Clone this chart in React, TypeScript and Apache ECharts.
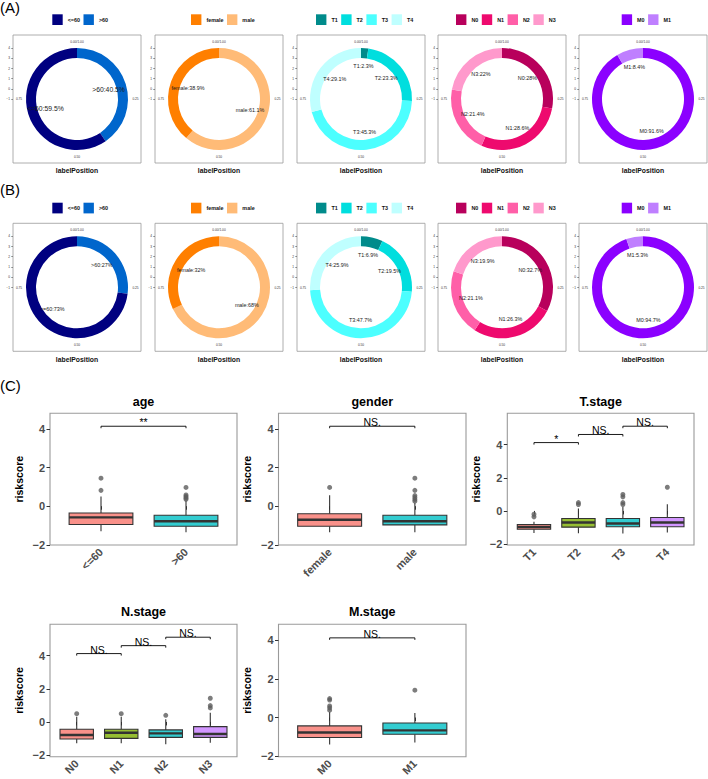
import { useEffect, useRef } from "react";
import * as echarts from "echarts";

const FONT = '"Liberation Sans", Arial, Helvetica, sans-serif';

// ---------- composition rings: cohort A (top row) and cohort B (middle row) ----------
const ageCategories = ["<=60", ">60"];
const genderCategories = ["female", "male"];
const tCategories = ["T1", "T2", "T3", "T4"];
const nCategories = ["N0", "N1", "N2", "N3"];
const mCategories = ["M0", "M1"];

const agePctA = [59.5, 40.5];
const genderPctA = [38.9, 61.1];
const tPctA = [2.3, 23.3, 45.3, 29.1];
const nPctA = [28, 28.6, 21.4, 22];
const mPctA = [91.6, 8.4];

const agePctB = [73, 27];
const genderPctB = [32, 68];
const tPctB = [6.9, 19.5, 47.7, 25.9];
const nPctB = [32.7, 26.3, 21.1, 19.9];
const mPctB = [94.7, 5.3];

// slice order going clockwise from 12 o'clock (indices into the category lists)
const ageRingOrder = [1, 0];
const genderRingOrder = [1, 0];
const tRingOrder = [0, 1, 2, 3];
const nRingOrder = [0, 1, 2, 3];
const mRingOrder = [0, 1];

const ageColors = ["#000080", "#0066CC"];
const genderColors = ["#FF7F00", "#FFBB77"];
const tColors = ["#008B8B", "#00DEDE", "#4CFFFF", "#BFFFFF"];
const nColors = ["#B8005C", "#EE0A6E", "#FF5FA8", "#FF99CC"];
const mColors = ["#8B00FF", "#BF7FFF"];

const thetaLabels = ["0.00/1.00", "0.25", "0.50", "0.75"];
const ringYTicks = [-1, 0, 1, 2, 3, 4];
const ringAxisTitle = "labelPosition";

// ---------- risk score by clinical feature ----------
const riskTitles = ["age", "gender", "T.stage", "N.stage", "M.stage"];
const riskAxisName = "riskscore";
const riskTicks = [-2, 0, 2, 4];

// per group: [lower whisker, Q1, median, Q3, upper whisker]
const ageBoxStats = [
  [-1.3, -0.95, -0.58, -0.35, 0.5],
  [-1.35, -1.04, -0.78, -0.47, 0.3],
];
const genderBoxStats = [
  [-1.35, -1.04, -0.7, -0.39, 0.56],
  [-1.35, -0.97, -0.78, -0.47, 0.18],
];
const tBoxStats = [
  [-1.33, -1.11, -0.97, -0.82, -0.66],
  [-1.35, -0.98, -0.7, -0.46, 0.15],
  [-1.37, -0.96, -0.76, -0.46, 0.24],
  [-1.31, -0.96, -0.7, -0.4, 0.4],
];
const nBoxStats = [
  [-1.29, -1.03, -0.79, -0.44, 0.32],
  [-1.29, -0.99, -0.65, -0.44, 0.32],
  [-1.35, -0.93, -0.69, -0.48, 0.16],
  [-1.25, -0.93, -0.73, -0.28, 0.56],
];
const mBoxStats = [
  [-1.39, -1.03, -0.77, -0.43, 0.28],
  [-1.29, -0.86, -0.66, -0.28, 0.24],
];

// outlying samples: [group index, risk score]
const ageOutliers = [[0, 1.45], [0, 0.82], [1, 0.97], [1, 0.58], [1, 0.5], [1, 0.43], [1, 0.36]];
const genderOutliers = [[0, 0.97], [1, 1.45], [1, 0.82], [1, 0.55], [1, 0.45], [1, 0.35], [1, 0.26]];
const tOutliers = [[0, -0.2], [0, -0.36], [1, 0.5], [1, 0.39], [2, 0.99], [2, 0.85], [2, 0.5], [2, 0.39], [3, 1.43]];
const nOutliers = [[0, 0.5], [1, 0.5], [2, 0.4], [3, 1.43], [3, 0.99], [3, 0.85]];
const mOutliers = [[0, 0.98], [0, 0.9], [0, 0.6], [0, 0.5], [0, 0.38], [1, 1.41]];

// pairwise tests: [group a, group b, bracket height, significance]
const ageTests: [number, number, number, string][] = [[0, 1, 4.14, "**"]];
const genderTests: [number, number, number, string][] = [[0, 1, 4.14, "NS."]];
const tTests: [number, number, number, string][] = [[0, 1, 4.13, "*"], [1, 2, 4.62, "NS."], [2, 3, 5.12, "NS."]];
const nTests: [number, number, number, string][] = [[0, 1, 4.13, "NS."], [1, 2, 4.61, "NS."], [2, 3, 5.12, "NS."]];
const mTests: [number, number, number, string][] = [[0, 1, 4.11, "NS."]];

const twoGroupFills = ["#F8766D", "#00BFC4"];
const fourGroupFills = ["#F8766D", "#7CAE00", "#00BFC4", "#C77CFF"];

// ---------- layout ----------
const ringLefts = [13, 155, 297, 438, 579];
const ringLegendLefts = [52.3, 191, 316, 456, 621.7];
const ringSize = 128;
const cohortTops = [35, 223.3];
const cohortLegendTops = [14.3, 202.7];
const axisTitleYs = [170, 359];
const ringLabelSizes = [
  [6.8, 5.4, 5.4, 5.4, 5.4],
  [5.4, 5.4, 5.4, 5.4, 5.4],
];

const riskLayout = [
  { left: 50, top: 413.3, width: 187, height: 131.7, yMin: -2.01, yMax: 4.81, titleY: 401.7 },
  { left: 278.5, top: 413.3, width: 187.5, height: 131.7, yMin: -2.01, yMax: 4.81, titleY: 401.7 },
  { left: 507.3, top: 413.3, width: 186.7, height: 131.7, yMin: -2.06, yMax: 5.9, titleY: 401.7 },
  { left: 50, top: 624.3, width: 187, height: 132.4, yMin: -2.1, yMax: 5.9, titleY: 612.3 },
  { left: 278.5, top: 624.3, width: 187.5, height: 132.4, yMin: -2.02, yMax: 4.81, titleY: 612.3 },
];

const minus = (v: number) => (v < 0 ? "\u2212" + Math.abs(v) : String(v));
const BOX_LINE = "#333333";

function buildOption() {
  const grids: any[] = [];
  const xAxes: any[] = [];
  const yAxes: any[] = [];
  const ringSeries: any[] = [];
  const labelSeries: any[] = [];
  const otherSeries: any[] = [];
  const legends: any[] = [];
  const graphics: any[] = [];

  const ringVars = [
    { cats: ageCategories, colors: ageColors, order: ageRingOrder, pct: [agePctA, agePctB] },
    { cats: genderCategories, colors: genderColors, order: genderRingOrder, pct: [genderPctA, genderPctB] },
    { cats: tCategories, colors: tColors, order: tRingOrder, pct: [tPctA, tPctB] },
    { cats: nCategories, colors: nColors, order: nRingOrder, pct: [nPctA, nPctB] },
    { cats: mCategories, colors: mColors, order: mRingOrder, pct: [mPctA, mPctB] },
  ];

  [0, 1].forEach((c) => {
    const top = cohortTops[c];
    ringVars.forEach((v, k) => {
      const left = ringLefts[k];
      const cx = left + ringSize / 2;
      const cy = top + ringSize / 2;
      const g = grids.length;
      grids.push({
        left, top, width: ringSize, height: ringSize, show: true,
        borderColor: "#9a9a9a", borderWidth: 0.8, backgroundColor: "transparent",
      });
      xAxes.push({ type: "value", gridIndex: g, show: false, min: 0, max: 1 });
      yAxes.push({
        type: "value", gridIndex: g, min: -7.27, max: 5.27,
        axisLine: { show: false }, splitLine: { show: false },
        axisTick: { show: true, length: 1.8, customValues: ringYTicks, lineStyle: { color: "#333", width: 0.5 } },
        axisLabel: { customValues: ringYTicks, fontSize: 3.2, margin: 3, color: "#333", fontFamily: FONT, formatter: minus },
      });
      const data = v.order.map((i) => ({
        name: v.cats[i], value: v.pct[c][i], itemStyle: { color: v.colors[i] },
      }));
      ringSeries.push({
        type: "pie", center: [cx, cy], radius: [41, 51], startAngle: 90, clockwise: true,
        silent: true, avoidLabelOverlap: false, label: { show: false }, labelLine: { show: false },
        itemStyle: { borderWidth: 0 }, data,
      });
      labelSeries.push({
        type: "pie", center: [cx, cy], radius: [0, 60], startAngle: 90, clockwise: true,
        silent: true, avoidLabelOverlap: false, labelLine: { show: false },
        itemStyle: { color: "rgba(0,0,0,0)", borderWidth: 0 },
        label: {
          show: true, position: "inside", formatter: "{b}:{c}%", fontSize: ringLabelSizes[c][k],
          color: "#1a1a1a", fontFamily: FONT, textBorderWidth: 0,
        },
        data: v.order.map((i) => ({ name: v.cats[i], value: v.pct[c][i] })),
      });
      legends.push({
        left: ringLegendLefts[k], top: cohortLegendTops[c], orient: "horizontal", padding: 0,
        data: v.cats, icon: "rect", itemWidth: 10.4, itemHeight: 10.7, itemGap: 3.5, selectedMode: false,
        itemStyle: { borderWidth: 0 },
        textStyle: { fontSize: 5.4, fontWeight: "bold", color: "#111", fontFamily: FONT },
      });
      const thetaPos = [
        [cx, top + 6.7], [left + 122.5, cy], [cx, top + 121.7], [left + 6, cy],
      ];
      thetaLabels.forEach((t, i) => {
        graphics.push({
          type: "text", x: thetaPos[i][0], y: thetaPos[i][1], silent: true,
          style: { text: t, fontSize: 3.2, fill: "#333", fontFamily: FONT, align: "center", verticalAlign: "middle" },
        });
      });
      graphics.push({
        type: "text", x: cx, y: axisTitleYs[c], silent: true,
        style: { text: ringAxisTitle, fontSize: 6.8, fontWeight: "bold", fill: "#111", fontFamily: FONT, align: "center", verticalAlign: "middle" },
      });
    });
  });

  const riskVars = [
    { cats: ageCategories, stats: ageBoxStats, outliers: ageOutliers, tests: ageTests, fills: twoGroupFills },
    { cats: genderCategories, stats: genderBoxStats, outliers: genderOutliers, tests: genderTests, fills: twoGroupFills },
    { cats: tCategories, stats: tBoxStats, outliers: tOutliers, tests: tTests, fills: fourGroupFills },
    { cats: nCategories, stats: nBoxStats, outliers: nOutliers, tests: nTests, fills: fourGroupFills },
    { cats: mCategories, stats: mBoxStats, outliers: mOutliers, tests: mTests, fills: twoGroupFills },
  ];

  riskVars.forEach((v, k) => {
    const L = riskLayout[k];
    const g = grids.length;
    const positions = v.cats.map((_, i) => i + 1);
    const fills = v.fills.map((f) => echarts.color.modifyAlpha(f, 0.8));
    grids.push({
      left: L.left, top: L.top, width: L.width, height: L.height, show: true,
      borderColor: "#9a9a9a", borderWidth: 1.1, backgroundColor: "transparent",
    });
    xAxes.push({
      type: "value", gridIndex: g, min: 0.4, max: v.cats.length + 0.6,
      axisLine: { show: false }, splitLine: { show: false },
      axisTick: { show: true, length: 3.5, customValues: positions, lineStyle: { color: "#333", width: 1 } },
      axisLabel: {
        customValues: positions, rotate: 45, margin: 5, fontSize: 11, fontWeight: "bold",
        color: "#4d4d4d", fontFamily: FONT, formatter: (val: number) => v.cats[Math.round(val) - 1] ?? "",
      },
    });
    yAxes.push({
      type: "value", gridIndex: g, min: L.yMin, max: L.yMax,
      name: riskAxisName, nameLocation: "middle", nameGap: 26,
      nameTextStyle: { fontSize: 10.5, fontWeight: "bold", color: "#000", fontFamily: FONT },
      axisLine: { show: false }, splitLine: { show: false },
      axisTick: { show: true, length: 3.5, customValues: riskTicks, lineStyle: { color: "#333", width: 1 } },
      axisLabel: {
        customValues: riskTicks, margin: 5, fontSize: 11, fontWeight: "bold", color: "#4d4d4d",
        fontFamily: FONT, formatter: minus,
      },
    });

    otherSeries.push({
      type: "custom", xAxisIndex: g, yAxisIndex: g, silent: true,
      encode: { x: 0, y: [1, 2, 3, 4, 5] },
      data: v.stats.map((s, i) => [i + 1, ...s, i]),
      renderItem: (_params: any, api: any) => {
        const x = api.value(0);
        const lo = api.coord([x, api.value(1)]);
        const q1 = api.coord([x, api.value(2)]);
        const med = api.coord([x, api.value(3)]);
        const q3 = api.coord([x, api.value(4)]);
        const hi = api.coord([x, api.value(5)]);
        const half = api.size([0.75, 0])[0] / 2;
        const fill = fills[api.value(6)];
        return {
          type: "group",
          children: [
            { type: "line", shape: { x1: lo[0], y1: lo[1], x2: q1[0], y2: q1[1] }, style: { stroke: BOX_LINE, lineWidth: 1.1 } },
            { type: "line", shape: { x1: q3[0], y1: q3[1], x2: hi[0], y2: hi[1] }, style: { stroke: BOX_LINE, lineWidth: 1.1 } },
            {
              type: "rect",
              shape: { x: q3[0] - half, y: q3[1], width: half * 2, height: q1[1] - q3[1] },
              style: { fill, stroke: BOX_LINE, lineWidth: 1.1 },
            },
            { type: "line", shape: { x1: med[0] - half, y1: med[1], x2: med[0] + half, y2: med[1] }, style: { stroke: BOX_LINE, lineWidth: 2.4 } },
          ],
        };
      },
    });
    otherSeries.push({
      type: "scatter", xAxisIndex: g, yAxisIndex: g, silent: true,
      symbol: "circle", symbolSize: 5, itemStyle: { color: "#5c5c5c" },
      data: v.outliers.map(([i, val]) => [i + 1, val]),
    });
    otherSeries.push({
      type: "custom", xAxisIndex: g, yAxisIndex: g, silent: true,
      encode: { x: [0, 1], y: 2 },
      data: v.tests.map(([a, b, y], j) => [a + 1, b + 1, y, j]),
      renderItem: (_params: any, api: any) => {
        const y = api.value(2);
        const a = api.coord([api.value(0), y]);
        const b = api.coord([api.value(1), y]);
        const label = v.tests[api.value(3)][3];
        return {
          type: "group",
          children: [
            {
              type: "polyline",
              shape: { points: [[a[0], a[1] + 2], [a[0], a[1]], [b[0], b[1]], [b[0], b[1] + 2]] },
              style: { stroke: "#000", lineWidth: 0.9, fill: "none" },
            },
            {
              type: "text", x: (a[0] + b[0]) / 2, y: a[1] + 1.5,
              style: { text: label, align: "center", verticalAlign: "bottom", fontSize: 10.5, fontFamily: FONT, fill: "#000" },
            },
          ],
        };
      },
    });
    graphics.push({
      type: "text", x: L.left + L.width / 2, y: L.titleY, silent: true,
      style: { text: riskTitles[k], fontSize: 12.5, fontWeight: "bold", fill: "#000", fontFamily: FONT, align: "center", verticalAlign: "middle" },
    });
  });

  [["(A)", 7.5], ["(B)", 189.7], ["(C)", 385]].forEach(([t, y]) => {
    graphics.push({
      type: "text", x: 0, y: y as number, silent: true,
      style: { text: t as string, fontSize: 15, fill: "#000", fontFamily: FONT, align: "left", verticalAlign: "middle" },
    });
  });

  return {
    animation: false,
    backgroundColor: "#ffffff",
    textStyle: { fontFamily: FONT },
    grid: grids,
    xAxis: xAxes,
    yAxis: yAxes,
    legend: legends,
    series: [...ringSeries, ...labelSeries, ...otherSeries],
    graphic: graphics,
  };
}

export default function App() {
  const ref = useRef<HTMLDivElement>(null);
  useEffect(() => {
    if (!ref.current) return;
    const chart = echarts.init(ref.current, undefined, { renderer: "svg" });
    chart.setOption(buildOption() as any);
    return () => chart.dispose();
  }, []);
  return (
    <div
      ref={ref}
      style={{ position: "absolute", left: 0, top: 0, width: 708, height: 779, background: "#fff" }}
    />
  );
}
